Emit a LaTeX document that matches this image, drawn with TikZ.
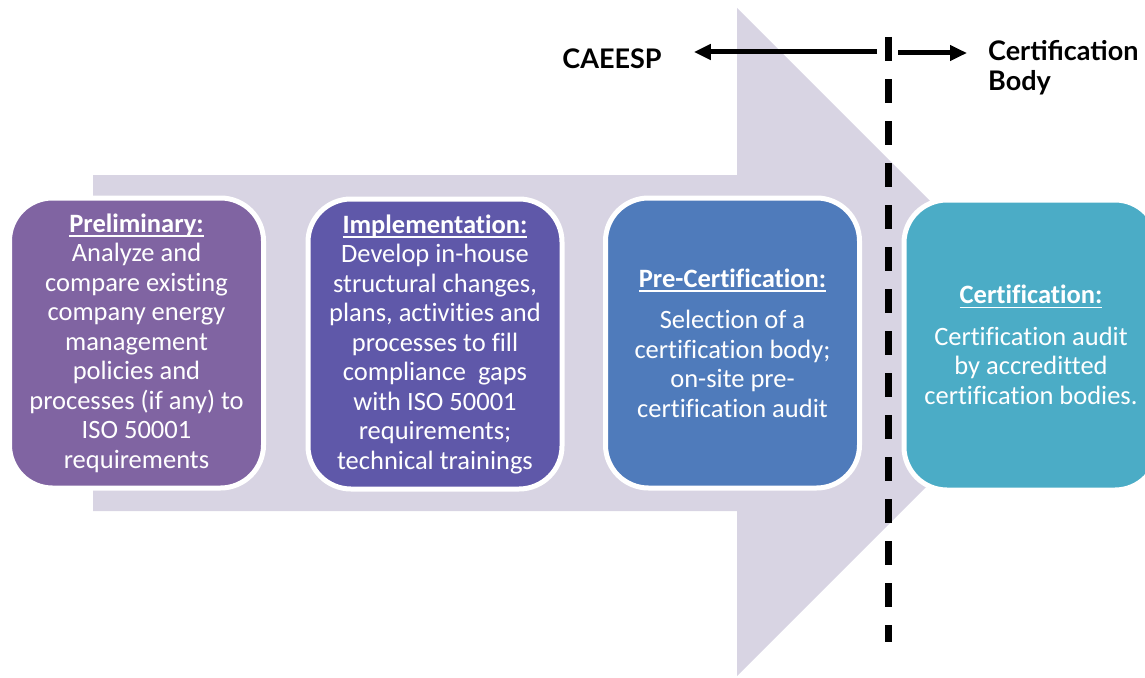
\documentclass[tikz,border=0pt]{standalone}
\usepackage{fontspec}
\setmainfont{Carlito}[Ligatures=NoCommon]
\newfontfamily\labelfont{Lato}
\usetikzlibrary{arrows.meta}

\definecolor{flowband}{HTML}{D8D4E3}
\definecolor{stageA}{HTML}{8064A2}
\definecolor{stageB}{HTML}{5F58A9}
\definecolor{stageC}{HTML}{4F7BBB}
\definecolor{stageD}{HTML}{4BACC6}

% bold heading with a flat underline at a fixed depth
\newcommand\stagehead[1]{%
  \setbox0\hbox{\bfseries #1}%
  \rlap{\rule[-4.5pt]{\wd0}{1.3pt}}\box0}

\begin{document}
\begin{tikzpicture}[x=1pt,y=-1pt,
  stage/.style={rectangle, rounded corners=43pt, draw=white, line width=5pt,
    minimum width=254pt, minimum height=290pt, inner sep=0pt,
    text=white, align=center, font=\fontsize{26.5}{29.5}\selectfont},
  toplabel/.style={inner sep=0pt, font=\labelfont\bfseries\fontsize{27}{30}\selectfont},
  conn/.style={line width=5pt, -{Triangle[length=17pt,width=15pt]}},
  divider/.style={line width=6.5pt, dash pattern=on 24pt off 18pt}]
\useasboundingbox (0,0) rectangle (1145,677);
\clip (0,0) rectangle (1145,677);

% large process arrow behind the stages
\fill[flowband] (93,175) -- (737,175) -- (737,8) -- (1071,342)
  -- (737,676) -- (737,511) -- (93,511) -- cycle;

% stages
\node[stage, fill=stageA] (prelim) at (136.5,343) {\stagehead{Preliminary:}\\
  Analyze and\\compare existing\\company energy\\management\\policies and\\
  processes (if any) to\\ISO 50001\\requirements};
\node[stage, fill=stageB] (impl) at (435,344) {\stagehead{Implementation:}\\
  Develop in-house\\structural changes,\\plans, activities and\\processes to fill\\
  compliance\ \ gaps\\with ISO 50001\\requirements;\\technical trainings};
\node[stage, fill=stageC] (precert) at (732.5,343) {\stagehead{Pre-Certification:}\\[12pt]
  Selection of a\\certification body;\\on-site pre-\\certification audit};
\node[stage, fill=stageD] (cert) at (1031,345) {\stagehead{Certification:}\\[12pt]
  Certification audit\\by accreditted\\certification bodies.};

% responsibility split
\coordinate (splittop) at (888.5,37);
\coordinate (splitbot) at (888.5,642);
\draw[divider] (splittop) -- (splitbot);

\node[toplabel, anchor=base] (caeesp) at (612,69) {CAEESP};
\node[toplabel, anchor=base west, align=left] (certbody) at (988,90) {Certification\\Body};

\coordinate (leftfrom) at (877,52);
\coordinate (rightfrom) at (898,53);
\draw[conn] (leftfrom) -- ([xshift=32pt]caeesp.east |- leftfrom);
\draw[conn] (rightfrom) -- ([xshift=-21pt]certbody.west |- rightfrom);
\end{tikzpicture}
\end{document}
